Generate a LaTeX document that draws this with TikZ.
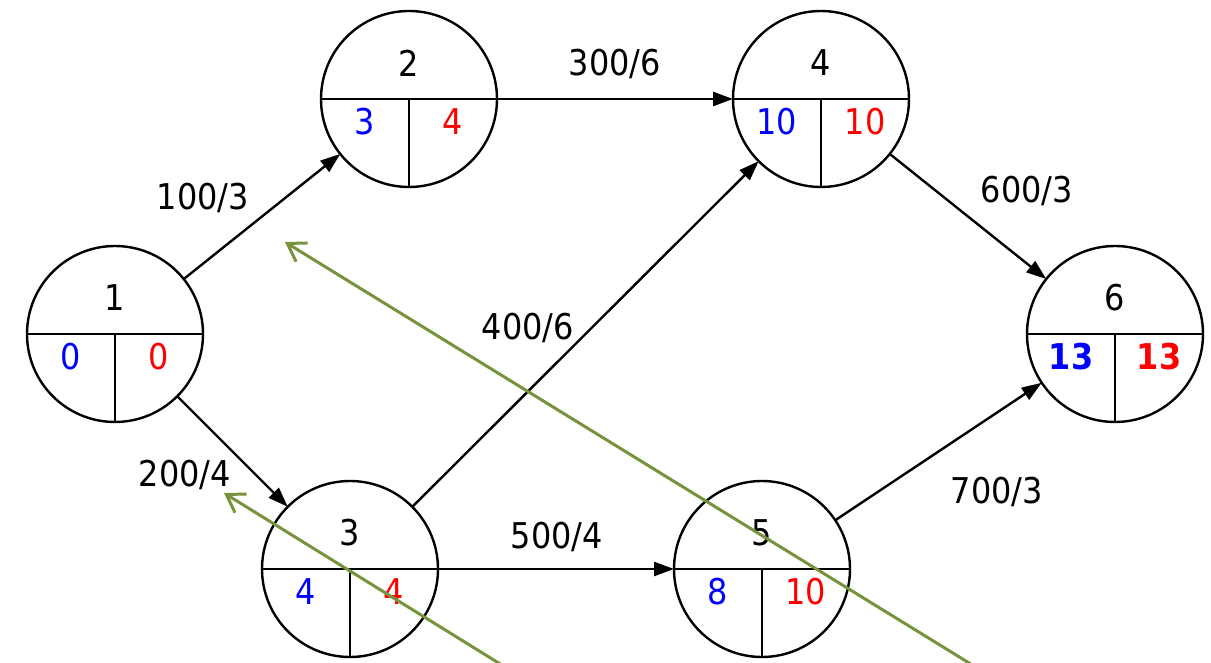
\documentclass[tikz,border=0pt]{standalone}
\usepackage{fontspec}
\setmainfont{DejaVu Sans}[FakeStretch=0.9]
\usetikzlibrary{arrows.meta}
\definecolor{olivegreen}{RGB}{119,147,60}
\begin{document}
\begin{tikzpicture}[x=1pt,y=-1pt,
  evnode/.style={circle,draw,line width=2.4pt,minimum size=176pt,inner sep=0pt,outer sep=0pt},
  divider/.style={line width=2.4pt},
  txt/.style={font=\fontsize{35.5}{38}\selectfont,inner sep=0pt},
  numtop/.style={txt},
  early/.style={txt,text=blue},
  late/.style={txt,text=red},
  edge/.style={line width=2.4pt,-{Triangle[length=20pt,width=14pt]}},
  elabel/.style={txt},
  crit/.style={line width=3pt,draw=olivegreen,-{Straight Barb[length=17pt,width=22pt]}}
]
\useasboundingbox (0,0) rectangle (1211,663);
\clip (0,0) rectangle (1211,663);

% event nodes
\foreach \n/\x/\y/\t/\e/\l in {1/115/334/1/0/0, 2/409/99/2/3/4, 4/821/99/4/10/10, 3/350/569/3/4/4, 5/762/569/5/8/10}{
  \node[evnode] (n\n) at (\x,\y) {};
  \draw[divider] (n\n.west) -- (n\n.east);
  \draw[divider] (n\n.center) -- (n\n.south);
  \node[numtop] (n\n t) at ([yshift=36pt]n\n.center) {\t};
  \node[early] (n\n e) at ([xshift=-44pt,yshift=-23pt]n\n.center) {\e};
  \node[late] (n\n l) at ([xshift=44pt,yshift=-23pt]n\n.center) {\l};
}
\node[evnode] (n6) at (1115,334) {};
\draw[divider] (n6.west) -- (n6.east);
\draw[divider] (n6.center) -- (n6.south);
\node[numtop] (n6t) at ([yshift=36pt]n6.center) {6};
\node[early,font=\fontsize{35.5}{38}\selectfont\bfseries] (n6e) at ([xshift=-44pt,yshift=-23pt]n6.center) {13};
\node[late,font=\fontsize{35.5}{38}\selectfont\bfseries] (n6l) at ([xshift=44pt,yshift=-23pt]n6.center) {13};

% activity arrows
\draw[edge] (n1) -- (n2);
\draw[edge] (n1) -- (n3);
\draw[edge] (n2) -- (n4);
\draw[edge] (n3) -- (n4);
\draw[edge] (n3) -- (n5);
\draw[edge] (n4) -- (n6);
\draw[edge] (n5) -- (n6);

% activity labels
\node[elabel] (l12) at (203,198) {100/3};
\node[elabel] (l24) at (615,64) {300/6};
\node[elabel] (l46) at (1027,191) {600/3};
\node[elabel] (l34) at (528,328) {400/6};
\node[elabel] (l13) at (185,475) {200/4};
\node[elabel] (l35) at (557,537) {500/4};
\node[elabel] (l56) at (997,492) {700/3};

% green arrows
\coordinate (g1s) at (518,675);
\coordinate (g1t) at (224,493);
\coordinate (g2s) at (1000,682);
\coordinate (g2t) at (285,242);
\draw[crit] (g1s) -- (g1t);
\draw[crit] (g2s) -- (g2t);
\end{tikzpicture}
\end{document}
